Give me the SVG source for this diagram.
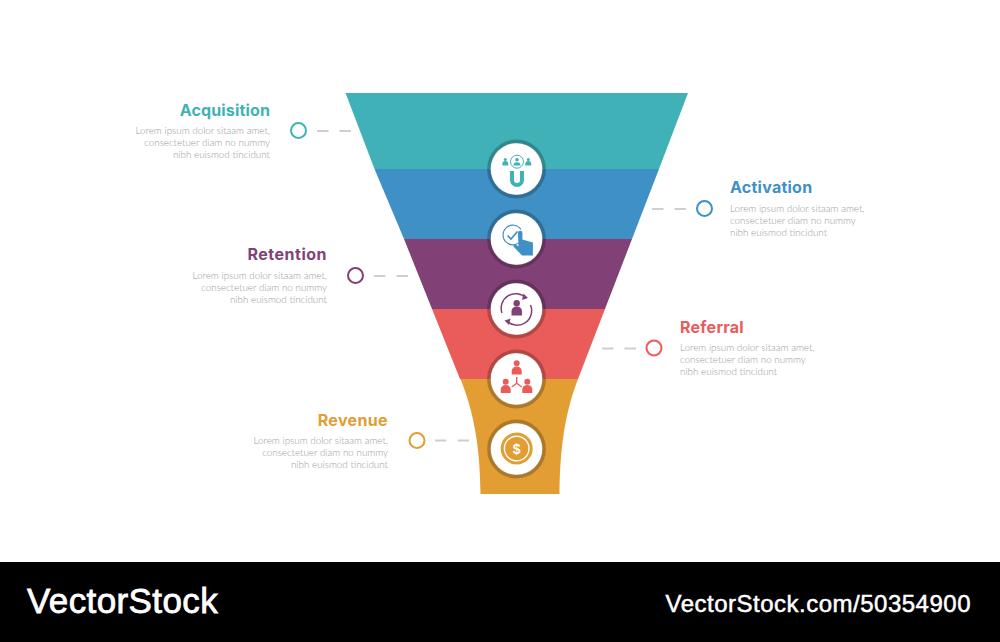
<svg xmlns="http://www.w3.org/2000/svg" width="1000" height="642" viewBox="0 0 1000 642">
<style>
.h{font-family:"Inter","Liberation Sans",sans-serif;font-weight:700;font-size:16px;letter-spacing:.25px}
.b{font-family:"Lato","Liberation Sans",sans-serif;font-weight:300;font-size:9.85px;fill:#999}
.e{text-anchor:end}
.dash{fill:none;stroke:#cfcfcf;stroke-width:2;stroke-dasharray:11.500 11}
.disc{fill:#fff}
.ring{fill:none;stroke:#000;stroke-opacity:.23;stroke-width:3.800}
.dot{fill:#fff;stroke-width:2}
.wm{font-family:"Liberation Sans",sans-serif;fill:#fff;stroke:#fff}
</style>
<rect width="1000" height="642" fill="#fff"/>
<g id="funnel">
<path d="M345.500 93H688L659 169H374.500Z" fill="#40b2b7"/>
<path d="M374.500 169H659L632 239H404Z" fill="#3e90c5"/>
<path d="M404 239H632L605 309H432Z" fill="#824176"/>
<path d="M432 309H605L578 379H460Z" fill="#ea5c59"/>
<path d="M460.500 379H578C567 408 560 440 559.500 494H480.500C480 440 472 408 460.500 379Z" fill="#e29d33"/>
</g>
<g id="connectors">
<path class="dash" d="M317 131H353"/>
<path class="dash" d="M652 209H688"/>
<path class="dash" d="M374 276H410"/>
<path class="dash" d="M602 348.500H638"/>
<path class="dash" d="M435 440.500H471"/>
</g>
<g id="node-acquisition">
<circle class="dot" cx="298.500" cy="130.500" r="7.500" stroke="#40b2b7"/>
<text class="h e" x="270" y="115.500" fill="#40b2b7" style="letter-spacing:.15px">Acquisition</text>
<text class="b e" x="270" y="133.500">Lorem ipsum dolor sitaam amet,</text>
<text class="b e" x="270" y="145.500">consectetuer diam no nummy</text>
<text class="b e" x="270" y="157.500">nibh euismod tincidunt</text>
<circle class="disc" cx="516.500" cy="169" r="26"/><circle class="ring" cx="516.500" cy="169" r="27.500"/>
<g fill="#40b2b7">
<circle cx="517" cy="161.700" r="6.500" fill="none" stroke="#40b2b7" stroke-width="1"/>
<circle cx="517" cy="159.700" r="1.800"/><path d="M513.500 165.500a3.500 3.300 0 0 1 7 0Z"/>
<circle cx="505.300" cy="159.500" r="1.500"/><path d="M502.300 165.500v-1.500a3 3 0 0 1 6 0v1.500Z"/>
<circle cx="528.300" cy="159.500" r="1.500"/><path d="M525.300 165.500v-1.500a3 3 0 0 1 6 0v1.500Z"/>
<path d="M510 171h4v9a3 3 0 0 0 6 0v-9h4v9a7 7 0 0 1-14 0Z"/>
</g>
</g>
<g id="node-activation">
<circle class="dot" cx="704.500" cy="208.500" r="7.500" stroke="#3e90c5"/>
<text class="h" x="730" y="193" fill="#3e90c5">Activation</text>
<text class="b" x="730" y="211.500">Lorem ipsum dolor sitaam amet,</text>
<text class="b" x="730" y="223.500">consectetuer diam no nummy</text>
<text class="b" x="730" y="235.500">nibh euismod tincidunt</text>
<circle class="disc" cx="516.500" cy="239" r="26"/><circle class="ring" cx="516.500" cy="239" r="27.500"/>
<path d="M521 229.500a9.800 9.800 0 1 0 0 11" fill="none" stroke="#3e90c5" stroke-width="1.200"/>
<path d="M507.500 235.500l3.500 3.500 6.500-7.500" fill="none" stroke="#3e90c5" stroke-width="1.700"/>
<path d="M518 233a2.200 2.200 0 0 1 4.400 0v6.500l10.500 3V255.500H522L513 246l2-2 3.500 2.500Z" fill="#3e90c5"/>
</g>
<g id="node-retention">
<circle class="dot" cx="355.500" cy="275.500" r="7.500" stroke="#824176"/>
<text class="h e" x="327" y="260" fill="#824176" style="letter-spacing:.5px">Retention</text>
<text class="b e" x="327" y="278.500">Lorem ipsum dolor sitaam amet,</text>
<text class="b e" x="327" y="290.500">consectetuer diam no nummy</text>
<text class="b e" x="327" y="302.500">nibh euismod tincidunt</text>
<circle class="disc" cx="516.500" cy="309" r="26"/><circle class="ring" cx="516.500" cy="309" r="27.500"/>
<g fill="none" stroke="#824176" stroke-width="1.500">
<path d="M502 313a14.500 14.500 0 0 1 24-15"/><path d="M530.500 305a14.500 14.500 0 0 1-24 15.500"/>
</g>
<g fill="#824176">
<path d="M523.500 293.500l4.500 4.500-6 2ZM509 325l-4.500-4.500 6-2Z"/>
<circle cx="516.700" cy="303.300" r="3.200"/><path d="M511.500 315.500v-4.500a5.200 4.500 0 0 1 10.500 0v4.500Z"/>
</g>
</g>
<g id="node-referral">
<circle class="dot" cx="654" cy="348" r="7.500" stroke="#ea5c59"/>
<text class="h" x="680" y="332.500" fill="#ea5c59">Referral</text>
<text class="b" x="680" y="350.500">Lorem ipsum dolor sitaam amet,</text>
<text class="b" x="680" y="362.500">consectetuer diam no nummy</text>
<text class="b" x="680" y="374.500">nibh euismod tincidunt</text>
<circle class="disc" cx="516.500" cy="379" r="26"/><circle class="ring" cx="516.500" cy="379" r="27.500"/>
<g fill="#ea5c59">
<circle cx="516.700" cy="363.300" r="3"/><path d="M511.700 374.500v-3.500a5 4.500 0 0 1 10 0v3.500Z"/>
<circle cx="505.700" cy="381.700" r="3"/><path d="M500.700 393v-3.500a5 4.500 0 0 1 10 0v3.500Z"/>
<circle cx="527.300" cy="381.700" r="3"/><path d="M522.300 393v-3.500a5 4.500 0 0 1 10 0v3.500Z"/>
<path d="M516.700 377v6.300M516.700 383.300l-5 3.700M516.700 383.300l5 3.700" fill="none" stroke="#ea5c59" stroke-width="1.400"/>
</g>
</g>
<g id="node-revenue">
<circle class="dot" cx="417" cy="440.500" r="7.500" stroke="#e29d33"/>
<text class="h e" x="388" y="425.500" fill="#e29d33" style="letter-spacing:.35px">Revenue</text>
<text class="b e" x="388" y="443.500">Lorem ipsum dolor sitaam amet,</text>
<text class="b e" x="388" y="455.500">consectetuer diam no nummy</text>
<text class="b e" x="388" y="467.500">nibh euismod tincidunt</text>
<circle class="disc" cx="516.500" cy="449" r="26"/><circle class="ring" cx="516.500" cy="449" r="27.500"/>
<circle cx="516.700" cy="448.500" r="16" fill="#e29d33"/>
<circle cx="516.700" cy="448.500" r="12.300" fill="none" stroke="#fff" stroke-width="1.400"/>
<text x="516.700" y="453.500" text-anchor="middle" font-family="Liberation Sans,sans-serif" font-weight="700" font-size="14" fill="#fff">$</text>
</g>
<g id="footer">
<rect y="562" width="1000" height="80" fill="#000"/>
<text class="wm" x="27" y="613" font-size="35" letter-spacing=".4" stroke-width=".8">VectorStock</text>
<text class="wm" x="971" y="612" font-size="24" letter-spacing=".5" text-anchor="end" stroke-width=".5">VectorStock.com/50354900</text>
</g>
</svg>
